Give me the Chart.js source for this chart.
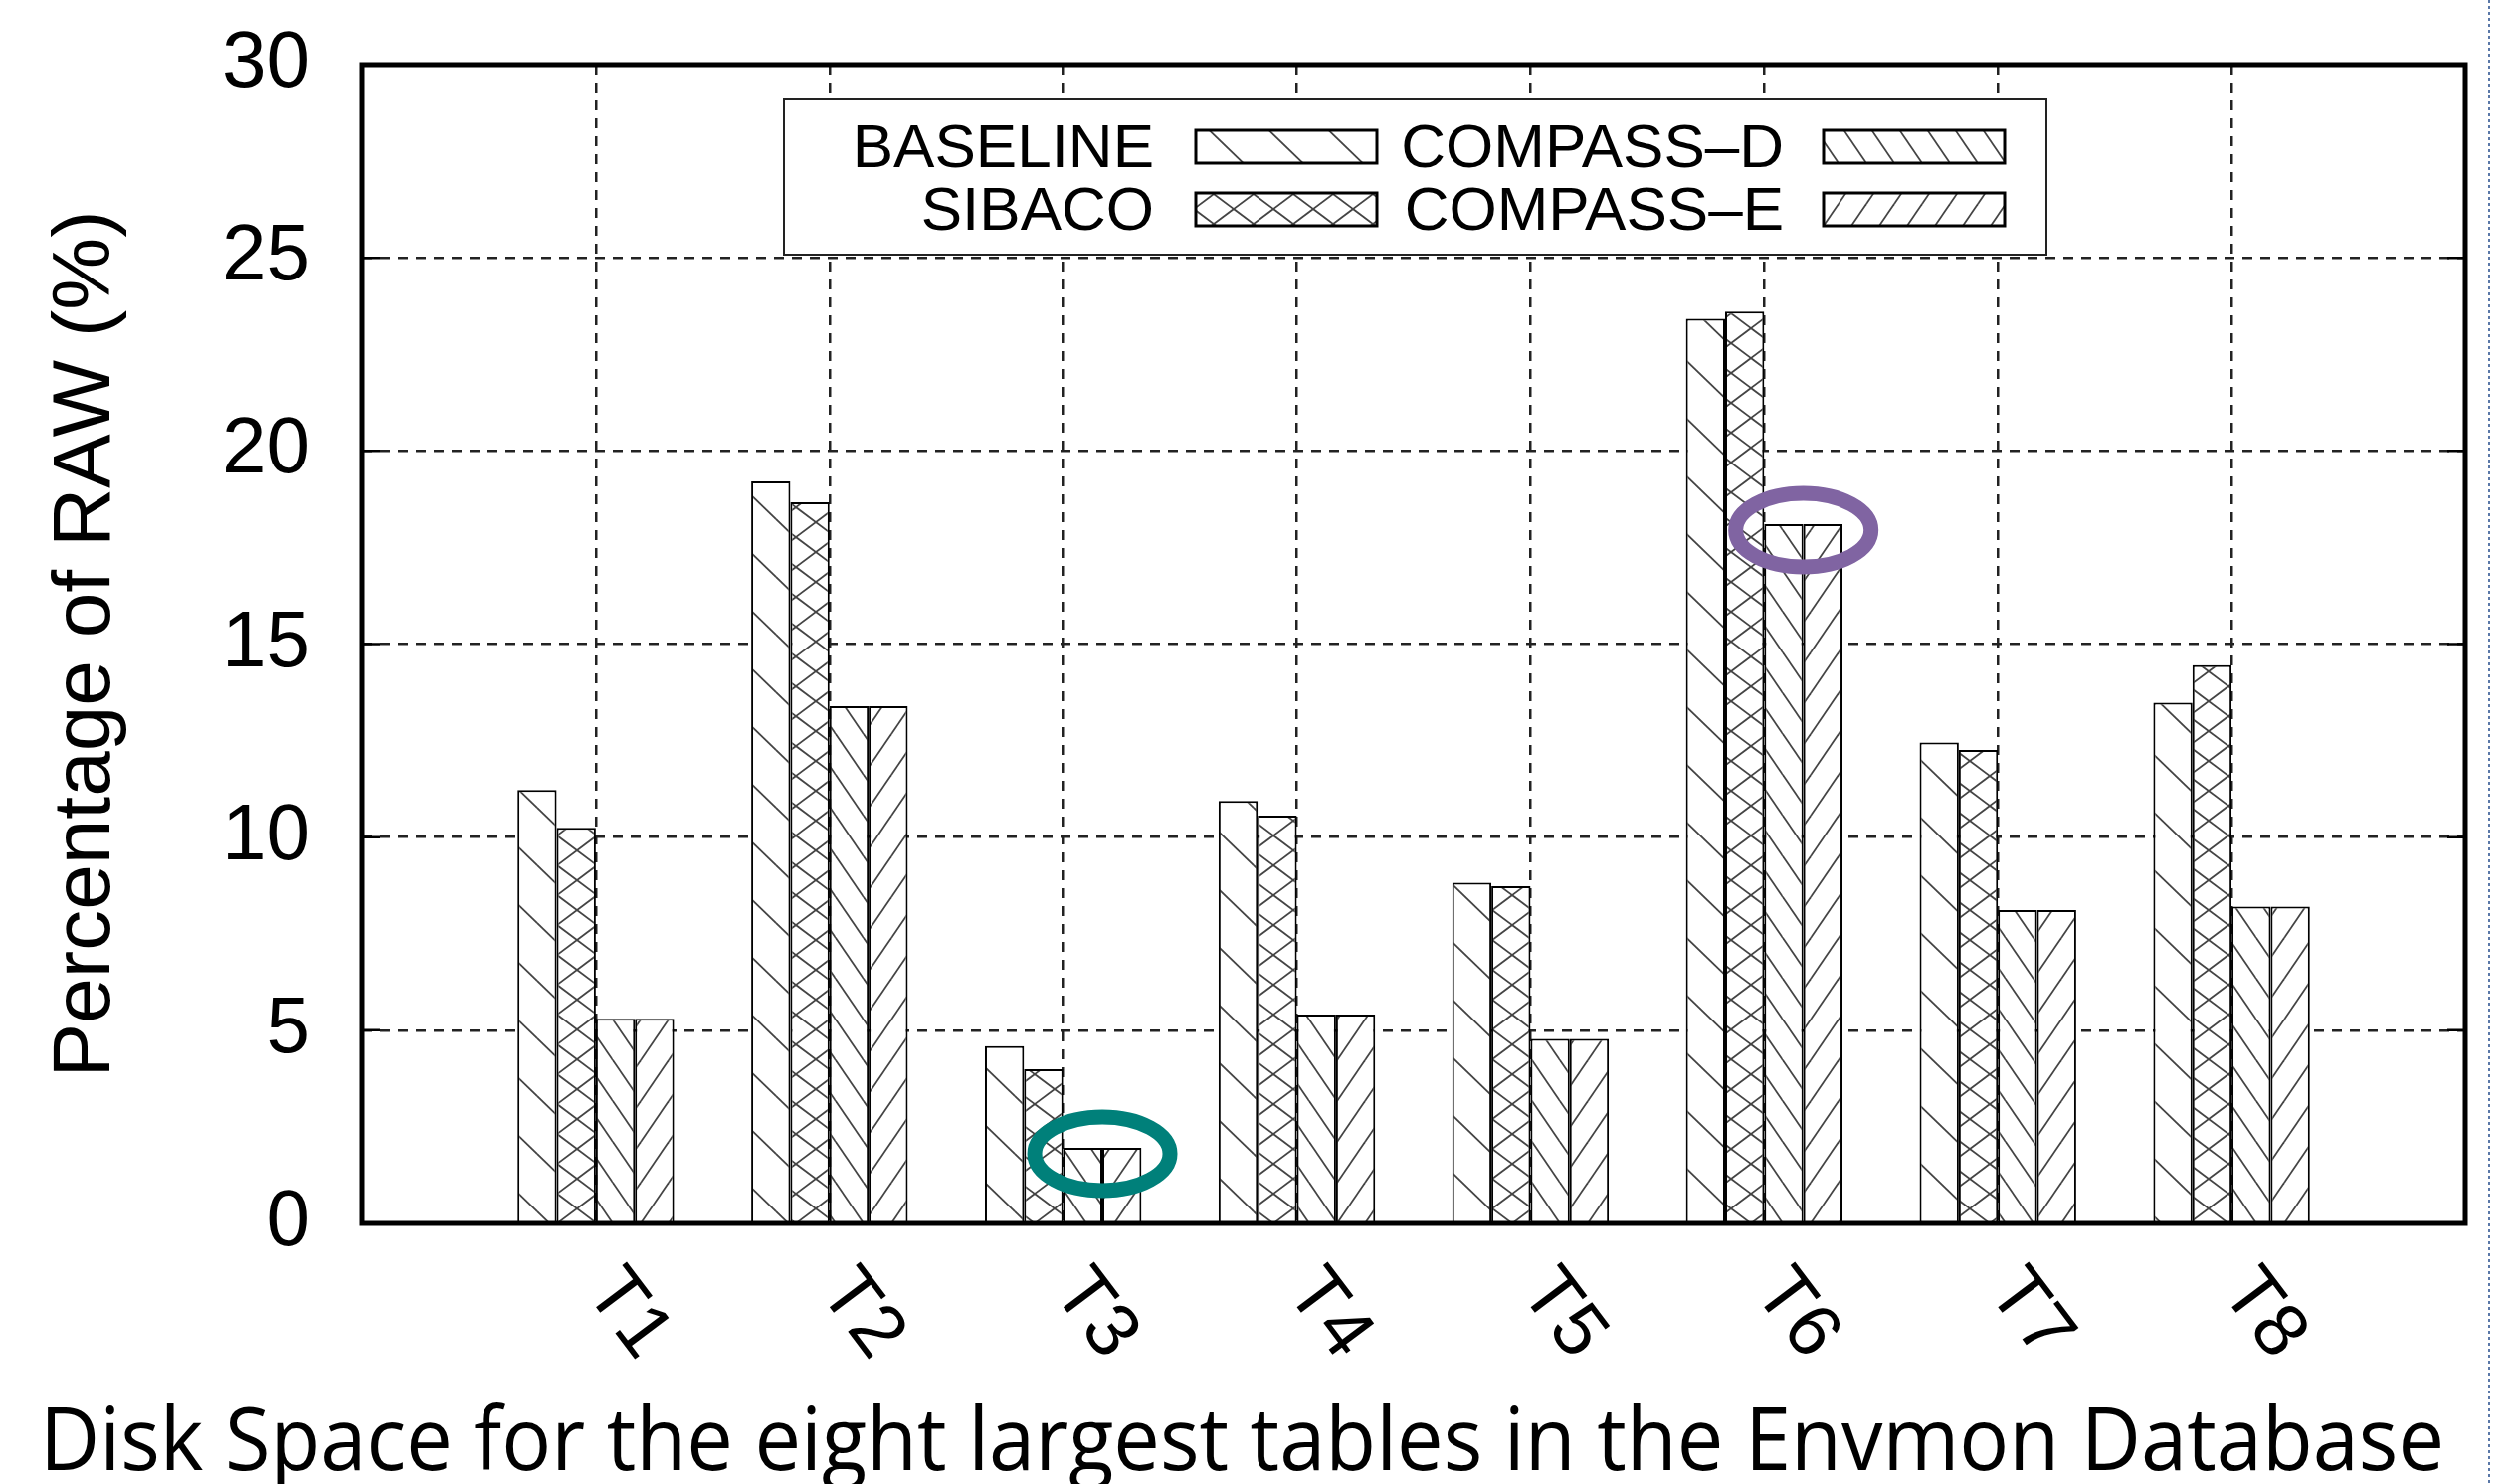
<!DOCTYPE html>
<html>
<head>
<meta charset="utf-8">
<script src="https://cdn.jsdelivr.net/npm/chart.js@4.4.1/dist/chart.umd.min.js"></script>
<style>
  html, body { margin: 0; padding: 0; background: #fff; }
  canvas { display: block; }
</style>
</head>
<body>
<canvas id="chart" width="2531" height="1492"></canvas>
<script>
// values (percentage of RAW)
const tables = ['T1', 'T2', 'T3', 'T4', 'T5', 'T6', 'T7', 'T8'];
const baseline = [11.22, 19.21, 4.59, 10.94, 8.82, 23.42, 12.45, 13.48];
const sibaco   = [10.24, 18.67, 3.99, 10.56, 8.73, 23.61, 12.26, 14.45];
const compassD = [5.30, 13.39, 1.96, 5.41, 4.78, 18.10, 8.11, 8.20];
const compassE = [5.30, 13.39, 1.96, 5.41, 4.78, 18.10, 8.11, 8.20];
const yTicks = [0, 5, 10, 15, 20, 25, 30];
const circled = [{ table: 'T3', color: '#00807a' }, { table: 'T6', color: '#8064a2' }];
const caption = 'Disk Space for the eight largest tables in the Envmon Database';

// gnuplot-ish histogram: one empty slot on each side of the groups
const axisLabels = ['', ...tables, ''];
const pad = arr => [null, ...arr, null];

const canvas = document.getElementById('chart');
const ctx = canvas.getContext('2d');

// hatch fill, tile w x h with corner-to-corner diagonals
function hatch(w, h, dirs) {
  const c = document.createElement('canvas');
  c.width = w; c.height = h;
  const g = c.getContext('2d');
  g.fillStyle = '#fff';
  g.fillRect(0, 0, w, h);
  g.strokeStyle = '#444';
  g.lineWidth = 1.8;
  for (const d of dirs) {
    for (let i = -1; i <= 1; i++) {
      for (let j = -1; j <= 1; j++) {
        const ox = i * w, oy = j * h;
        g.beginPath();
        if (d === '\\') { g.moveTo(ox, oy); g.lineTo(ox + w, oy + h); }
        else { g.moveTo(ox, oy + h); g.lineTo(ox + w, oy); }
        g.stroke();
      }
    }
  }
  return ctx.createPattern(c, 'repeat');
}

const patterns = {
  baseline: hatch(60, 58, ['\\']),
  sibaco: hatch(40, 30, ['\\', '/']),
  compassD: hatch(28, 41, ['\\']),
  compassE: hatch(28, 41, ['/'])
};

const FONT = '"Liberation Sans", Arial, sans-serif';

function makeSet(label, values, fill) {
  return {
    label,
    data: pad(values),
    backgroundColor: fill,
    borderColor: '#000',
    borderWidth: 2,
    borderSkipped: 'start',
    categoryPercentage: 0.67,
    barPercentage: 1.0
  };
}

const decor = {
  id: 'decor',
  afterDatasetsDraw(chart) {
    const c = chart.ctx;
    const a = chart.chartArea;
    const xs = chart.scales.x, ys = chart.scales.y;
    c.save();

    // inward y tics on both borders
    c.strokeStyle = '#000';
    c.lineWidth = 2.5;
    c.setLineDash([]);
    yTicks.forEach(v => {
      const y = ys.getPixelForValue(v);
      c.beginPath();
      c.moveTo(a.left, y); c.lineTo(a.left + 18, y);
      c.moveTo(a.right - 18, y); c.lineTo(a.right, y);
      c.stroke();
    });

    // frame
    c.lineWidth = 5;
    c.strokeRect(a.left, a.top, a.right - a.left, a.bottom - a.top);

    // legend box
    const lb = { l: 788, t: 100, r: 2057, b: 256 };
    c.fillStyle = '#fff';
    c.fillRect(lb.l, lb.t, lb.r - lb.l, lb.b - lb.t);
    c.lineWidth = 2;
    c.strokeStyle = '#222';
    c.strokeRect(lb.l, lb.t, lb.r - lb.l, lb.b - lb.t);
    const textRight = [1160, 1793], sampleLeft = [1202, 1833], rowMid = [147, 210];
    c.font = '62px ' + FONT;
    c.textAlign = 'right';
    c.textBaseline = 'alphabetic';
    chart.data.datasets.forEach((ds, i) => {
      const col = Math.floor(i / 2), row = i % 2;
      c.fillStyle = '#000';
      c.fillText(ds.label, textRight[col], rowMid[row] + 21);
      c.fillStyle = ds.backgroundColor;
      c.fillRect(sampleLeft[col], rowMid[row] - 16, 182, 33);
      c.lineWidth = 3;
      c.strokeStyle = '#000';
      c.strokeRect(sampleLeft[col], rowMid[row] - 16, 182, 33);
    });

    // highlight ellipses around the COMPASS bars
    circled.forEach(o => {
      const idx = axisLabels.indexOf(o.table);
      const el = chart.getDatasetMeta(2).data[idx];
      const cx = el.x + el.width / 2;
      const cy = el.y + 6;
      c.beginPath();
      c.ellipse(cx, cy, 68, 37, 0, 0, Math.PI * 2);
      c.lineWidth = 15;
      c.strokeStyle = o.color;
      c.stroke();
    });

    // rotated category labels
    c.fillStyle = '#000';
    c.font = '76px ' + FONT;
    c.textAlign = 'left';
    c.textBaseline = 'middle';
    tables.forEach(t => {
      const x = xs.getPixelForValue(axisLabels.indexOf(t));
      c.save();
      c.translate(x + 5, a.bottom + 56);
      c.rotate(53 * Math.PI / 180);
      c.fillText(t, 0, 0);
      c.restore();
    });

    // y axis title
    c.save();
    c.font = '82px ' + FONT;
    c.textAlign = 'center';
    c.textBaseline = 'alphabetic';
    c.translate(110, (a.top + a.bottom) / 2);
    c.rotate(-Math.PI / 2);
    c.fillText('Percentage of RAW (%)', 0, 0);
    c.restore();

    // caption under the plot, squeezed to the slide width
    c.save();
    c.font = '88px "Open Sans", sans-serif';
    c.textAlign = 'left';
    c.textBaseline = 'alphabetic';
    const w = c.measureText(caption).width;
    c.translate(40, 1478);
    c.scale(2417 / w, 1);
    c.fillText(caption, 0, 0);
    c.restore();

    // dotted slide edge on the right
    c.strokeStyle = '#5a78a8';
    c.lineWidth = 2;
    c.setLineDash([3, 3]);
    c.beginPath();
    c.moveTo(2502, 0); c.lineTo(2502, 1492);
    c.stroke();

    c.restore();
  }
};

new Chart(ctx, {
  type: 'bar',
  data: {
    labels: axisLabels,
    datasets: [
      makeSet('BASELINE', baseline, patterns.baseline),
      makeSet('SIBACO', sibaco, patterns.sibaco),
      makeSet('COMPASS\u2013D', compassD, patterns.compassD),
      makeSet('COMPASS\u2013E', compassE, patterns.compassE)
    ]
  },
  options: {
    responsive: false,
    animation: false,
    devicePixelRatio: 1,
    layout: { padding: { top: 65, right: 53, left: 0, bottom: 0 } },
    plugins: {
      legend: { display: false },
      tooltip: { enabled: false },
      title: { display: false }
    },
    scales: {
      x: {
        offset: false,
        grid: {
          offset: false,
          drawTicks: false,
          lineWidth: 2.5,
          color: g => (g.index === 0 || g.index === axisLabels.length - 1) ? 'rgba(0,0,0,0)' : '#222'
        },
        border: { display: false, dash: [10, 8] },
        ticks: { display: false },
        afterFit: s => { s.height = 262; s.paddingLeft = 0; s.paddingRight = 0; }
      },
      y: {
        min: 0,
        max: 30,
        afterBuildTicks: s => { s.ticks = yTicks.map(v => ({ value: v })); },
        ticks: { color: '#000', padding: 52, font: { family: FONT, size: 80 } },
        grid: {
          drawTicks: false,
          lineWidth: 2.5,
          color: g => (g.tick && (g.tick.value === 0 || g.tick.value === 30)) ? 'rgba(0,0,0,0)' : '#222'
        },
        border: { display: false, dash: [10, 8] },
        afterFit: s => { s.width = 364; s.paddingTop = 0; s.paddingBottom = 0; }
      }
    }
  },
  plugins: [decor]
});
</script>
</body>
</html>
